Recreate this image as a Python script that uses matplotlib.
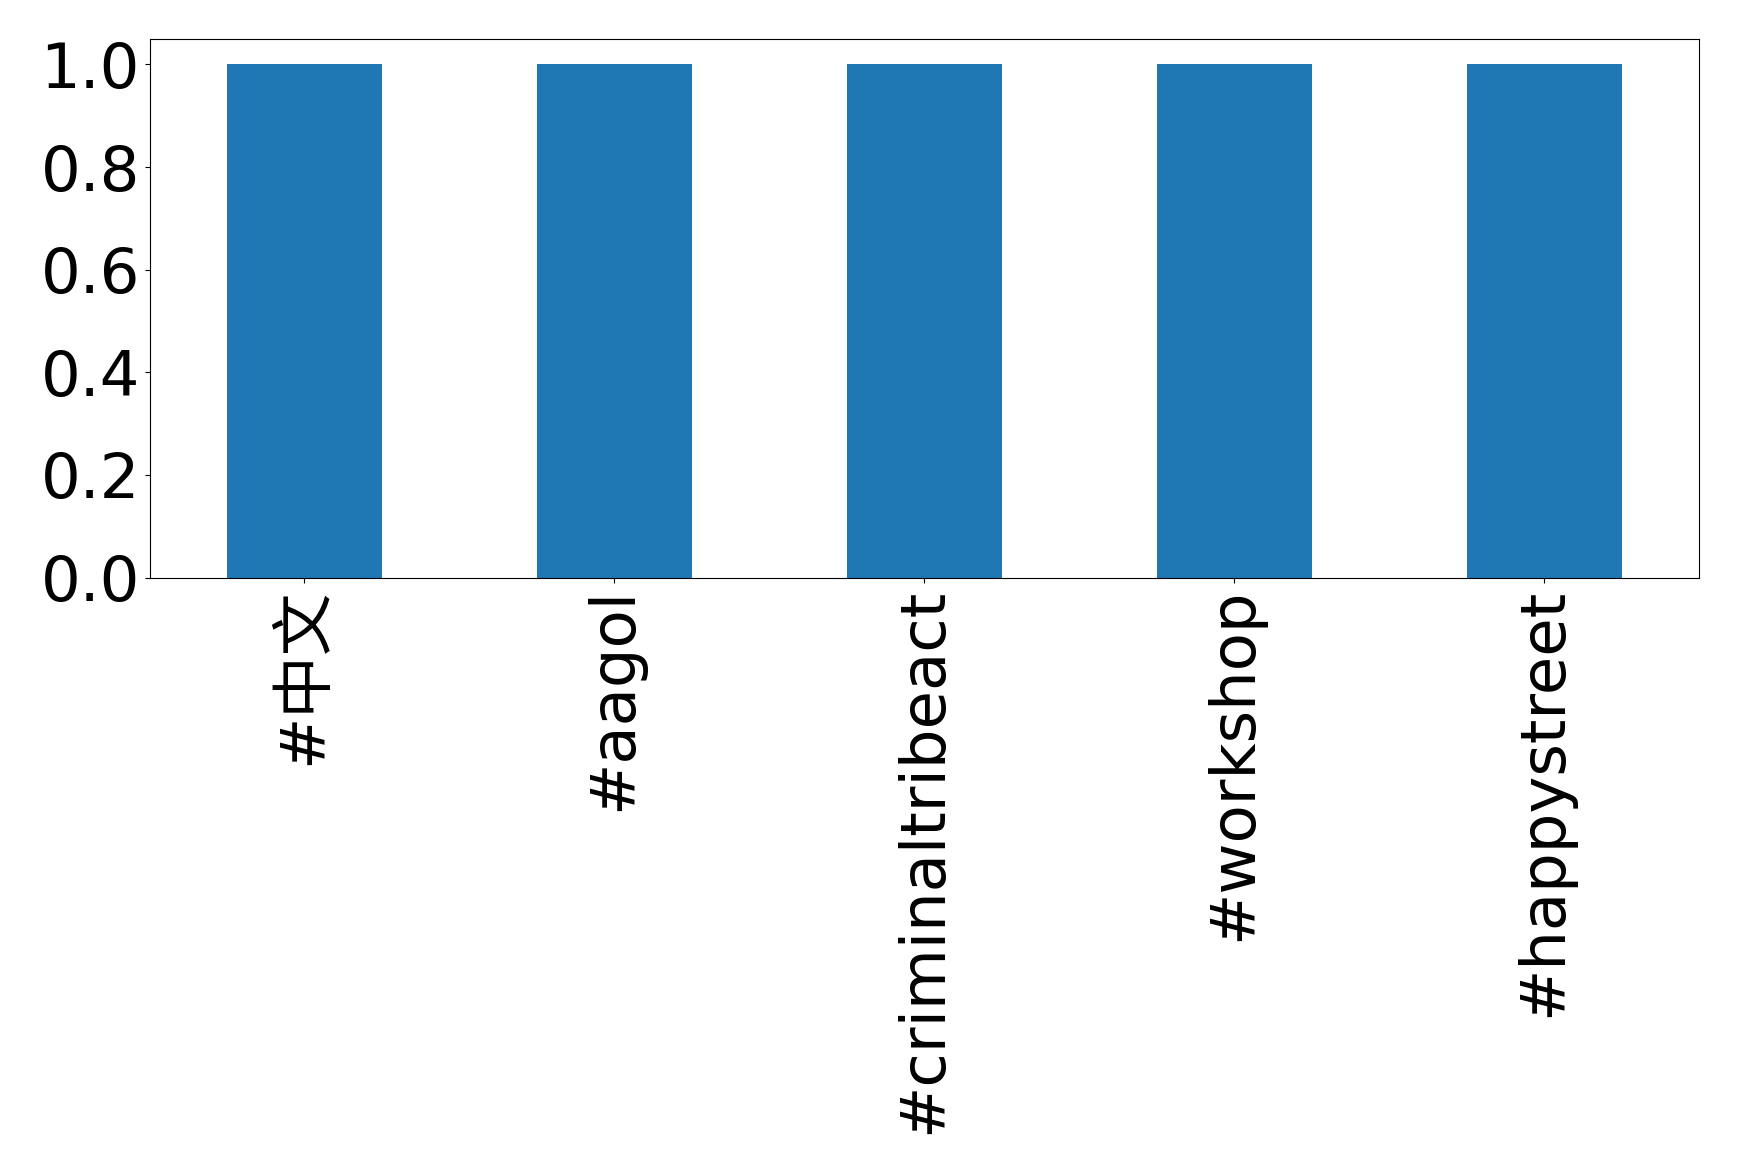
import matplotlib
matplotlib.use("Agg")
import matplotlib.pyplot as plt

plt.rcParams['font.family'] = ['DejaVu Sans', 'Noto Sans CJK SC']

# hashtag counts, normalised
hashtags = ["#中文", "#aagol", "#criminaltribeact", "#workshop", "#happystreet"]
values = [1.0, 1.0, 1.0, 1.0, 1.0]

fig = plt.figure(figsize=(17.39, 11.74), dpi=100)
ax = fig.add_axes([0.086, 0.508, 0.891, 0.459])

positions = list(range(len(hashtags)))
ax.bar(positions, values, width=0.5, color="#1f77b4")
ax.set_xlim(-0.5, len(hashtags) - 0.5)
ax.set_ylim(0, 1.05)
ax.set_xticks(positions)
ax.set_xticklabels(hashtags, rotation=90)
ax.set_yticks([0.0, 0.2, 0.4, 0.6, 0.8, 1.0])
ax.tick_params(axis="both", labelsize=45)

fig.savefig("out.png", dpi=100)
